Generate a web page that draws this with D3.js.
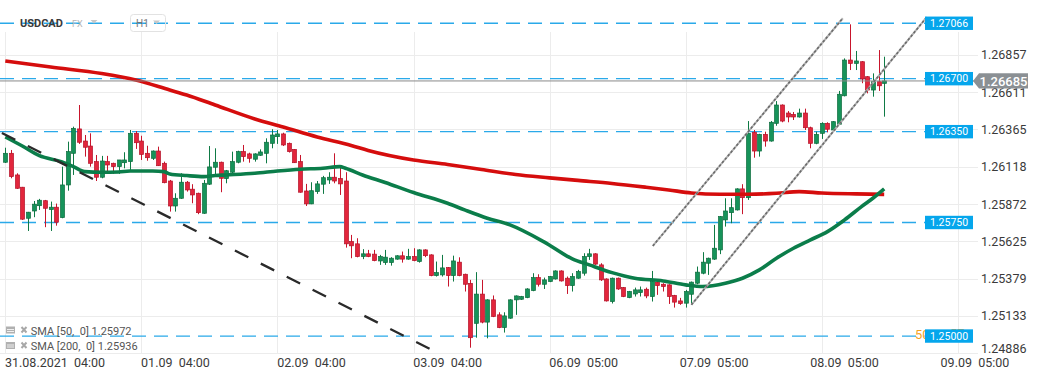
<!DOCTYPE html>
<html><head><meta charset="utf-8">
<script src="https://cdn.jsdelivr.net/npm/d3@7"></script>
<style>
body{margin:0;background:#fff;}
svg{display:block;font-family:Roboto,"Noto Sans",sans-serif;}
text{white-space:pre;}
</style>
</head><body>
<svg id="c" width="1041" height="379"></svg>
<script>
// ---------------- DATA ----------------
const opens = [1.26148,1.26207,1.26064,1.25983,1.25778,1.25826,1.25861,1.25894,1.25835,1.25851,1.25782,1.25998,1.26207,1.26368,1.26288,1.26255,1.26152,1.26049,1.26152,1.26141,1.26119,1.26145,1.26152,1.26339,1.26288,1.26207,1.26174,1.26222,1.26141,1.26024,1.25859,1.25910,1.26016,1.25970,1.25943,1.25811,1.26003,1.26115,1.26148,1.26040,1.26082,1.26148,1.26218,1.26203,1.26168,1.26194,1.26207,1.26273,1.26317,1.26335,1.26273,1.26233,1.26152,1.25958,1.25873,1.25954,1.26003,1.26031,1.26049,1.26040,1.26024,1.25624,1.25609,1.25525,1.25543,1.25541,1.25496,1.25485,1.25485,1.25508,1.25530,1.25508,1.25525,1.25492,1.25569,1.25536,1.25399,1.25404,1.25452,1.25399,1.25488,1.25408,1.25348,1.25084,1.25277,1.25092,1.25239,1.25140,1.25056,1.25118,1.25239,1.25243,1.25254,1.25300,1.25386,1.25342,1.25360,1.25377,1.25430,1.25382,1.25333,1.25382,1.25415,1.25525,1.25543,1.25470,1.25377,1.25228,1.25382,1.25320,1.25254,1.25278,1.25287,1.25309,1.25261,1.25356,1.25342,1.25338,1.25268,1.25232,1.25217,1.25276,1.25349,1.25415,1.25481,1.25508,1.25569,1.25767,1.25815,1.25833,1.25972,1.25914,1.26346,1.26222,1.26332,1.26288,1.26405,1.26526,1.26473,1.26464,1.26447,1.26473,1.26376,1.26273,1.26339,1.26405,1.26361,1.26399,1.26587,1.26823,1.26801,1.26812,1.26713,1.26625,1.26680,1.26669];
const highs = [1.26244,1.26229,1.26075,1.25985,1.25820,1.25892,1.25906,1.25899,1.25888,1.25875,1.26119,1.26284,1.26383,1.26526,1.26328,1.26339,1.26196,1.26190,1.26190,1.26145,1.26163,1.26214,1.26361,1.26354,1.26323,1.26257,1.26226,1.26251,1.26152,1.26031,1.25943,1.26075,1.26024,1.26003,1.25947,1.26031,1.26255,1.26240,1.26152,1.26097,1.26218,1.26224,1.26262,1.26211,1.26207,1.26233,1.26306,1.26366,1.26361,1.26343,1.26278,1.26235,1.26196,1.26005,1.26016,1.26024,1.26058,1.26082,1.26207,1.26119,1.26082,1.25668,1.25646,1.25574,1.25569,1.25569,1.25536,1.25569,1.25521,1.25534,1.25558,1.25576,1.25580,1.25573,1.25573,1.25540,1.25492,1.25536,1.25456,1.25531,1.25520,1.25412,1.25371,1.25422,1.25371,1.25243,1.25268,1.25157,1.25157,1.25243,1.25268,1.25265,1.25316,1.25415,1.25408,1.25386,1.25397,1.25434,1.25434,1.25393,1.25415,1.25437,1.25547,1.25576,1.25547,1.25481,1.25381,1.25386,1.25386,1.25324,1.25298,1.25320,1.25327,1.25320,1.25430,1.25360,1.25349,1.25342,1.25272,1.25252,1.25305,1.25360,1.25459,1.25554,1.25518,1.25734,1.25793,1.25910,1.25910,1.25976,1.26003,1.26420,1.26361,1.26336,1.26350,1.26420,1.26552,1.26530,1.26486,1.26480,1.26502,1.26502,1.26383,1.26350,1.26412,1.26412,1.26420,1.26619,1.26834,1.27059,1.26883,1.26816,1.26717,1.26735,1.26889,1.26845];
const lows = [1.26143,1.26042,1.25972,1.25767,1.25694,1.25785,1.25833,1.25719,1.25694,1.25729,1.25778,1.25960,1.26064,1.26269,1.26185,1.26119,1.26024,1.26042,1.26090,1.26071,1.26071,1.26108,1.26097,1.26236,1.26163,1.26158,1.26163,1.26123,1.26009,1.25822,1.25822,1.25906,1.25954,1.25877,1.25805,1.25807,1.25998,1.26069,1.25950,1.26009,1.26075,1.26141,1.26152,1.26145,1.26152,1.26190,1.26141,1.26240,1.26269,1.26255,1.26212,1.26143,1.25947,1.25859,1.25871,1.25939,1.25939,1.26005,1.26009,1.25932,1.25584,1.25514,1.25520,1.25508,1.25521,1.25494,1.25470,1.25470,1.25465,1.25504,1.25485,1.25504,1.25494,1.25485,1.25521,1.25395,1.25393,1.25393,1.25327,1.25360,1.25395,1.25294,1.24923,1.24989,1.25084,1.24985,1.25125,1.25052,1.25023,1.25114,1.25140,1.25239,1.25250,1.25296,1.25327,1.25311,1.25356,1.25373,1.25360,1.25278,1.25294,1.25378,1.25399,1.25503,1.25470,1.25364,1.25228,1.25215,1.25305,1.25257,1.25250,1.25261,1.25261,1.25250,1.25228,1.25272,1.25294,1.25212,1.25188,1.25206,1.25188,1.25212,1.25342,1.25408,1.25404,1.25503,1.25541,1.25723,1.25745,1.25829,1.25805,1.25899,1.26178,1.26185,1.26251,1.26284,1.26389,1.26412,1.26412,1.26427,1.26443,1.26361,1.26240,1.26267,1.26302,1.26346,1.26357,1.26394,1.26583,1.26757,1.26757,1.26670,1.26603,1.26581,1.26619,1.26449];
const closes = [1.26207,1.26053,1.25976,1.25772,1.25818,1.25871,1.25897,1.25844,1.25851,1.25752,1.25998,1.26218,1.26372,1.26280,1.26247,1.26141,1.26049,1.26156,1.26130,1.26119,1.26163,1.26163,1.26339,1.26277,1.26200,1.26178,1.26222,1.26125,1.26013,1.25859,1.25910,1.26016,1.25965,1.25932,1.25815,1.26009,1.26117,1.26148,1.26042,1.26092,1.26152,1.26218,1.26185,1.26174,1.26203,1.26216,1.26280,1.26328,1.26335,1.26262,1.26218,1.26145,1.25950,1.25873,1.25960,1.26005,1.26046,1.26049,1.26024,1.26005,1.25609,1.25596,1.25525,1.25543,1.25525,1.25498,1.25525,1.25521,1.25514,1.25530,1.25508,1.25525,1.25498,1.25569,1.25531,1.25399,1.25419,1.25450,1.25399,1.25496,1.25399,1.25342,1.24989,1.25277,1.25092,1.25239,1.25129,1.25056,1.25133,1.25239,1.25265,1.25261,1.25311,1.25386,1.25342,1.25371,1.25393,1.25430,1.25364,1.25333,1.25393,1.25426,1.25525,1.25543,1.25475,1.25371,1.25232,1.25382,1.25311,1.25261,1.25294,1.25305,1.25305,1.25265,1.25360,1.25333,1.25327,1.25261,1.25224,1.25215,1.25294,1.25356,1.25422,1.25488,1.25514,1.25580,1.25789,1.25826,1.25848,1.25972,1.25914,1.26339,1.26222,1.26332,1.26288,1.26412,1.26526,1.26420,1.26447,1.26447,1.26473,1.26376,1.26273,1.26332,1.26405,1.26366,1.26416,1.26597,1.26823,1.26801,1.26817,1.26698,1.26625,1.26680,1.26653,1.26685];

const sma50Idx = [0,3,6,10,12,14,17,20,22,26,28,29,32,35,37,39,44,48,52,56,59,60,63,67,72,78,81,85,89,95,100,103,107,111,116,120,123,127,130,133,136,139,142,145,148,151,153,155];
const sma50 = [1.26315,1.26255,1.26191,1.26150,1.26119,1.26086,1.26082,1.26084,1.26090,1.26090,1.26086,1.26071,1.26060,1.26053,1.26060,1.26064,1.26075,1.26090,1.26102,1.26108,1.26119,1.26108,1.26064,1.26014,1.25948,1.25877,1.25833,1.25778,1.25734,1.25622,1.25510,1.25470,1.25419,1.25382,1.25364,1.25338,1.25327,1.25349,1.25382,1.25437,1.25514,1.25580,1.25635,1.25690,1.25767,1.25855,1.25910,1.25972];
const sma200Idx = [0,8,17,23,29,32,37,44,49,55,61,64,72,78,84,90,96,101,107,113,117,121,126,131,136,140,144,150,155];
const sma200 = [1.26817,1.26777,1.26734,1.26691,1.26625,1.26592,1.26526,1.26434,1.26381,1.26315,1.26259,1.26226,1.26163,1.26133,1.26100,1.26067,1.26045,1.26028,1.26008,1.25983,1.25965,1.25945,1.25937,1.25937,1.25943,1.25954,1.25945,1.25939,1.25936];

const levels = [1.27066, 1.26700, 1.26350, 1.25750, 1.25000];
const lastPrice = 1.26685;
const yTicks = [1.26857, 1.26611, 1.26365, 1.26118, 1.25872, 1.25625, 1.25379, 1.25133, 1.24886];
const xGridIdx = [0, 24, 48, 72, 96, 120, 144, 168];
const xLabelIdx = [0, 24, 48, 72, 96, 119, 142, 165];
const xLabels = ["31.08.2021  04:00", "01.09  04:00", "02.09  04:00", "03.09  04:00", "06.09  05:00", "07.09  05:00", "08.09  05:00", "09.09  05:00"];
const trendDown = [[-0.6, 1.26341], [76.3, 1.24888]];
const channelLow = [[121.0, 1.25206], [162.5, 1.27106]];
const channelHigh = [[114.2, 1.25595], [147.7, 1.27099]];
const legendRows = ["SMA [50,  0] 1.25972", "SMA [200,  0] 1.25936"];

// ---------------- CHART ----------------
const svg = d3.select("#c");
const x = d3.scaleLinear().domain([0, 168]).range([5.3, 957.9]);
const y = d3.scaleLinear().domain([1.24886, 1.26857]).range([353.3, 54.9]);
const plotR = 958, plotB = 353.3;

svg.append("defs").append("clipPath").attr("id", "clip")
  .append("rect").attr("x", 0).attr("y", 0).attr("width", plotR).attr("height", plotB);

// grid
svg.append("g").selectAll("line").data(yTicks).join("line")
  .attr("x1", 0).attr("x2", 978).attr("y1", d => Math.round(y(d)) + 0.5).attr("y2", d => Math.round(y(d)) + 0.5)
  .attr("stroke", "#ececec");
svg.append("g").selectAll("line").data(xGridIdx).join("line")
  .attr("x1", d => Math.round(x(d)) + 0.5).attr("x2", d => Math.round(x(d)) + 0.5)
  .attr("y1", 32).attr("y2", plotB).attr("stroke", "#ececec");

// right axis labels (the lowest one is kept inside the plot height, as in the reference)
svg.append("g").selectAll("text").data(yTicks).join("text")
  .attr("x", 981).attr("y", d => Math.min(y(d), 348) + 4.5).attr("font-size", 12.5).attr("fill", "#3a3a3a")
  .text(d => d.toFixed(5));

// bottom labels
svg.append("g").selectAll("text").data(xLabelIdx).join("text")
  .attr("x", d => x(d) - 0.3).attr("y", 366.5).attr("font-size", 12.5).attr("fill", "#3a3a3a")
  .text((d, i) => xLabels[i]);

const plot = svg.append("g").attr("clip-path", "url(#clip)");

// level lines
plot.append("g").selectAll("line").data(levels).join("line")
  .attr("x1", 0).attr("x2", 925).attr("y1", d => y(d)).attr("y2", d => y(d))
  .attr("stroke", "#2aa9e9").attr("stroke-width", 1.3).attr("stroke-dasharray", "14,8");

// candles
const idx = d3.range(opens.length);
const cg = plot.append("g");
const up = i => closes[i] >= opens[i];
cg.selectAll("line").data(idx).join("line")
  .attr("x1", i => Math.round(x(i)) + 0.5).attr("x2", i => Math.round(x(i)) + 0.5)
  .attr("y1", i => y(highs[i])).attr("y2", i => y(lows[i]))
  .attr("stroke", i => up(i) ? "#0f7a45" : "#c8152c").attr("stroke-width", 1);
cg.selectAll("rect").data(idx).join("rect")
  .attr("x", i => Math.round(x(i)) - 1.5).attr("width", 4)
  .attr("y", i => y(Math.max(opens[i], closes[i])))
  .attr("height", i => Math.max(1.2, Math.abs(y(opens[i]) - y(closes[i]))))
  .attr("fill", i => up(i) ? "#16935a" : "#e2263c")
  .attr("stroke", i => up(i) ? "#0d6b3d" : "#b31127").attr("stroke-width", 0.7);

// SMA lines
const line = d3.line().x(d => x(d[0])).y(d => y(d[1])).curve(d3.curveMonotoneX);
plot.append("path").datum(sma200Idx.map((d, i) => [d, sma200[i]]))
  .attr("d", line).attr("fill", "none").attr("stroke", "#d50d0d").attr("stroke-width", 3.6).attr("stroke-linejoin", "round");
plot.append("path").datum(sma50Idx.map((d, i) => [d, sma50[i]]))
  .attr("d", line).attr("fill", "none").attr("stroke", "#0b7d4a").attr("stroke-width", 3.6).attr("stroke-linejoin", "round");

// current price line
svg.append("line").attr("x1", 0).attr("x2", 975).attr("y1", y(lastPrice)).attr("y2", y(lastPrice))
  .attr("stroke", "#8a8a8a").attr("stroke-width", 1);

// trendlines
const lin = d3.line().x(d => x(d[0])).y(d => y(d[1]));
plot.append("path").datum(trendDown).attr("d", lin).attr("stroke", "#2a2a2a").attr("stroke-width", 2.3)
  .attr("stroke-dasharray", "15,14").attr("fill", "none");
[channelLow, channelHigh].forEach(c => {
  svg.append("path").datum(c).attr("d", lin).attr("stroke", "#b4b4b4").attr("stroke-width", 2).attr("fill", "none");
  svg.append("path").datum(c).attr("d", lin).attr("stroke", "#6a6a6a").attr("stroke-width", 1.6)
    .attr("stroke-dasharray", "2.5,2").attr("fill", "none");
});

// orange partially hidden text
svg.append("text").attr("x", 915).attr("y", 339).attr("font-size", 13).attr("fill", "#f5a31f").text("50");
svg.append("text").attr("x", 950).attr("y", 338).attr("font-size", 13).attr("fill", "#f5a31f").text("57");

// level label boxes
const lb = svg.append("g").selectAll("g").data(levels).join("g");
lb.append("rect").attr("x", 925).attr("y", d => y(d) - 6.7).attr("width", 48).attr("height", 13.4).attr("fill", "#05a6ec");
lb.append("text").attr("x", 949).attr("y", d => y(d) + 3.6).attr("text-anchor", "middle")
  .attr("font-size", 10.5).attr("fill", "#fff").text(d => d.toFixed(5));

// current price box
const py = y(lastPrice);
svg.append("path").attr("d", `M973,${py}L979,${py - 7.6}H1028V${py + 7.6}H979Z`).attr("fill", "#8b9094");
svg.append("text").attr("x", 1003.5).attr("y", py + 4.7).attr("text-anchor", "middle").attr("font-size", 13)
  .attr("font-weight", 500).attr("fill", "#fff").text(lastPrice.toFixed(5));

// header
svg.append("text").attr("x", 20).attr("y", 27).attr("font-size", 11).attr("font-weight", "bold").attr("fill", "#3a3a3a").text("USDCAD");
svg.append("text").attr("x", 72).attr("y", 27).attr("font-size", 9).attr("fill", "#b4b4b4").text("FX");
svg.append("path").attr("d", "M90.5,20H97.5L94,23.5Z").attr("fill", "#c8c8c8");
svg.append("rect").attr("x", 130.5).attr("y", 14.5).attr("width", 35).attr("height", 17).attr("rx", 3)
  .attr("fill", "none").attr("stroke", "#e2e2e2");
svg.append("text").attr("x", 136).attr("y", 27).attr("font-size", 10).attr("fill", "#777").text("H1");
svg.append("path").attr("d", "M153,20.5H160L156.5,24Z").attr("fill", "#c8c8c8");

// legend
const lg = svg.append("g").selectAll("g").data(legendRows).join("g")
  .attr("transform", (d, i) => `translate(0,${i * 15.5})`);
lg.append("rect").attr("x", 6).attr("y", 326.5).attr("width", 9).attr("height", 7).attr("fill", "#b0b0b0");
lg.append("line").attr("x1", 7).attr("x2", 14).attr("y1", 329.5).attr("y2", 329.5).attr("stroke", "#fff").attr("stroke-width", 0.8);
lg.append("line").attr("x1", 7).attr("x2", 14).attr("y1", 331.5).attr("y2", 331.5).attr("stroke", "#fff").attr("stroke-width", 0.8);
lg.append("path").attr("d", "M21.5,327L26.5,332.5M26.5,327L21.5,332.5").attr("stroke", "#a8a8a8").attr("stroke-width", 2);
lg.append("text").attr("x", 30.7).attr("y", 334.5).attr("font-size", 11).attr("fill", "#555").text(d => d);
</script>
</body></html>
